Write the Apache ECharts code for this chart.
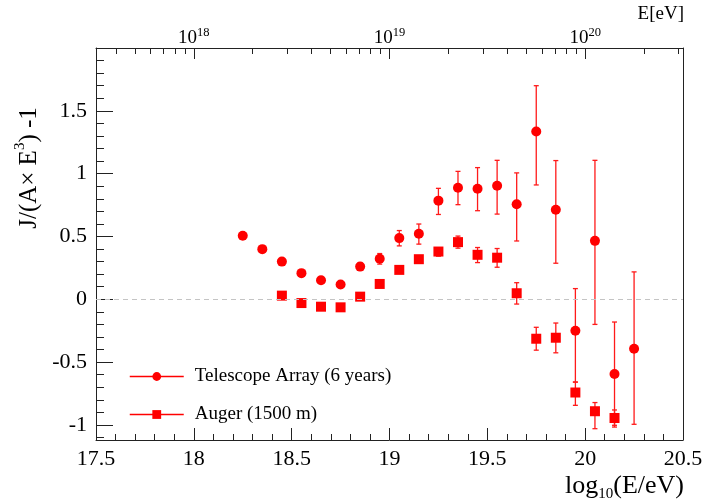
<!DOCTYPE html>
<html>
<head>
<meta charset="utf-8">
<script src="https://cdn.jsdelivr.net/npm/echarts@6/dist/echarts.min.js"></script>
<style>
  html, body { margin: 0; padding: 0; background: #ffffff; }
  #chart { width: 706px; height: 503px; }
</style>
</head>
<body>
<div id="chart"></div>
<script>
// Telescope Array: bin centres in log10(E/eV), J/(A*E^3)-1 and its lower/upper errors
const taX = [18.25, 18.35, 18.45, 18.55, 18.65, 18.75, 18.85, 18.95, 19.05, 19.15, 19.25,
             19.35, 19.45, 19.55, 19.65, 19.75, 19.85, 19.95, 20.05, 20.15, 20.25];
const taY = [0.505, 0.399, 0.300, 0.208, 0.152, 0.117, 0.260, 0.322, 0.487, 0.521, 0.785,
             0.888, 0.880, 0.904, 0.757, 1.335, 0.713, -0.251, 0.465, -0.594, -0.394];
const taErrLo = [0.02, 0.02, 0.02, 0.02, 0.025, 0.025, 0.03, 0.042, 0.062, 0.082, 0.110,
                 0.135, 0.175, 0.226, 0.293, 0.425, 0.426, 0.407, 0.665, 0.409, 0.601];
const taErrHi = [0.02, 0.02, 0.02, 0.02, 0.025, 0.025, 0.03, 0.042, 0.060, 0.078, 0.098,
                 0.130, 0.168, 0.202, 0.249, 0.365, 0.391, 0.336, 0.641, 0.413, 0.612];

// Auger (1500 m array)
const augerX = [18.45, 18.55, 18.65, 18.75, 18.85, 18.95, 19.05, 19.15, 19.25,
                19.35, 19.45, 19.55, 19.65, 19.75, 19.85, 19.95, 20.05, 20.15];
const augerY = [0.029, -0.030, -0.059, -0.064, 0.021, 0.122, 0.234, 0.319, 0.380,
                0.455, 0.354, 0.331, 0.048, -0.314, -0.306, -0.742, -0.891, -0.945];
const augerErrLo = [0.01, 0.01, 0.01, 0.012, 0.012, 0.014, 0.016, 0.02, 0.037,
                    0.048, 0.062, 0.076, 0.086, 0.091, 0.120, 0.102, 0.139, 0.072];
const augerErrHi = [0.01, 0.01, 0.01, 0.012, 0.012, 0.014, 0.016, 0.02, 0.029,
                    0.048, 0.058, 0.073, 0.084, 0.091, 0.117, 0.082, 0.069, 0.064];

const seriesNames = ['Telescope Array (6 years)', 'Auger (1500 m)'];

// Axis ticks
const yMajorTicks = [-1, -0.5, 0, 0.5, 1, 1.5];
const yMinorTicks = [];
for (let i = -11; i <= 19; i++) { if (i % 5 !== 0) yMinorTicks.push(i / 10); }
const eDecades = [18, 19, 20];            // labelled powers of ten on the energy axis
const eMinorTicks = [];
for (let n = 17; n <= 20; n++) {
  for (let k = 2; k <= 9; k++) {
    const v = n + Math.log10(k);
    if (v >= 17.5 && v <= 20.5) eMinorTicks.push(v);
  }
}

const FONT = 'Liberation Serif';
const RED = '#ff0000';

const pts = (xs, ys) => xs.map((x, i) => [x, ys[i]]);
const bars = (xs, ys, lo, hi) => xs.map((x, i) => [x, ys[i] - lo[i], ys[i] + hi[i]]);

function errorBarItem(params, api) {
  const x = api.value(0);
  const lo = api.coord([x, api.value(1)]);
  const hi = api.coord([x, api.value(2)]);
  const cap = 2.5;
  const style = { stroke: '#ff1a1a', lineWidth: 1.3 };
  return {
    type: 'group',
    children: [
      { type: 'line', shape: { x1: lo[0], y1: lo[1], x2: hi[0], y2: hi[1] }, style },
      { type: 'line', shape: { x1: lo[0] - cap, y1: lo[1], x2: lo[0] + cap, y2: lo[1] }, style },
      { type: 'line', shape: { x1: hi[0] - cap, y1: hi[1], x2: hi[0] + cap, y2: hi[1] }, style }
    ]
  };
}

const frameLine = { show: true, onZero: false, lineStyle: { color: '#222', width: 1 } };
const noLine = { show: false, onZero: false };
const tickStyle = { color: '#222', width: 1 };
const XMIN = 17.5, XMAX = 20.5, YMIN = -1.12, YMAX = 2.0;

const chart = echarts.init(document.getElementById('chart'), null, { renderer: 'canvas' });
chart.setOption({
  animation: false,
  backgroundColor: '#ffffff',
  grid: { left: 96, right: 23, top: 48, bottom: 63, containLabel: false },
  xAxis: [
    {
      type: 'value', position: 'bottom', min: XMIN, max: XMAX, interval: 0.5,
      axisLine: frameLine,
      axisTick: { show: true, inside: true, length: 12, lineStyle: tickStyle },
      minorTick: { show: true, splitNumber: 5, length: 6, lineStyle: tickStyle },
      splitLine: { show: false },
      axisLabel: { margin: 8, color: '#000', fontFamily: FONT, fontSize: 22,
                   formatter: v => String(v) }
    },
    {
      type: 'value', position: 'top', min: XMIN, max: XMAX,
      axisLine: frameLine,
      axisTick: { show: true, inside: true, length: 11, customValues: eDecades, lineStyle: tickStyle },
      splitLine: { show: false },
      axisLabel: {
        show: true, margin: 0, customValues: eDecades,
        formatter: v => '{b|10}{s|' + Math.round(v) + '}',
        rich: {
          b: { fontFamily: FONT, fontSize: 19, color: '#000', lineHeight: 22, verticalAlign: 'bottom' },
          s: { fontFamily: FONT, fontSize: 12.5, color: '#000', verticalAlign: 'top' }
        }
      }
    },
    {
      type: 'value', position: 'top', min: XMIN, max: XMAX,
      axisLine: noLine,
      axisTick: { show: true, inside: true, length: 6, customValues: eMinorTicks, lineStyle: tickStyle },
      splitLine: { show: false },
      axisLabel: { show: false }
    }
  ],
  yAxis: [
    {
      type: 'value', position: 'left', min: YMIN, max: YMAX,
      axisLine: frameLine,
      axisTick: { show: true, inside: true, length: 17, customValues: yMajorTicks, lineStyle: tickStyle },
      splitLine: { show: false },
      axisLabel: { show: true, customValues: yMajorTicks, margin: 9, color: '#000',
                   fontFamily: FONT, fontSize: 22, formatter: v => String(v) }
    },
    {
      type: 'value', position: 'left', min: YMIN, max: YMAX,
      axisLine: noLine,
      axisTick: { show: true, inside: true, length: 8, customValues: yMinorTicks, lineStyle: tickStyle },
      splitLine: { show: false },
      axisLabel: { show: false }
    },
    {
      type: 'value', position: 'right', min: YMIN, max: YMAX,
      axisLine: frameLine,
      axisTick: { show: false },
      splitLine: { show: false },
      axisLabel: { show: false }
    }
  ],
  legend: {
    orient: 'vertical', left: 124, top: 362, itemWidth: 54, itemHeight: 11, itemGap: 19,
    selectedMode: false,
    data: seriesNames,
    lineStyle: { color: RED, width: 1.5, opacity: 1 },
    textStyle: { fontFamily: FONT, fontSize: 19, color: '#000', padding: [0, 0, 0, 6] }
  },
  series: [
    {
      type: 'custom', name: 'TA errors', xAxisIndex: 0, yAxisIndex: 0, z: 1,
      renderItem: errorBarItem, data: bars(taX, taY, taErrLo, taErrHi), silent: true
    },
    {
      type: 'custom', name: 'Auger errors', xAxisIndex: 0, yAxisIndex: 0, z: 1,
      renderItem: errorBarItem, data: bars(augerX, augerY, augerErrLo, augerErrHi), silent: true
    },
    {
      type: 'line', name: seriesNames[0], xAxisIndex: 0, yAxisIndex: 0, z: 3,
      data: pts(taX, taY), symbol: 'circle', symbolSize: 10, showAllSymbol: true,
      itemStyle: { color: RED }, lineStyle: { opacity: 0, color: RED },
      markLine: {
        silent: true, symbol: 'none', label: { show: false },
        lineStyle: { color: '#c4c4c4', type: [5, 4], width: 1 },
        data: [{ yAxis: 0 }]
      }
    },
    {
      type: 'line', name: seriesNames[1], xAxisIndex: 0, yAxisIndex: 0, z: 3,
      data: pts(augerX, augerY), symbol: 'rect', symbolSize: 10, showAllSymbol: true,
      itemStyle: { color: RED }, lineStyle: { opacity: 0, color: RED }
    }
  ],
  graphic: [
    {
      type: 'text', x: 684, y: 14,
      style: { text: 'E[eV]', fontFamily: FONT, fontSize: 19, fill: '#000',
               align: 'right', verticalAlign: 'middle' }
    },
    {
      type: 'text', x: 684, y: 486,
      style: {
        text: '{a|log}{s|10}{a|(E/eV)}', align: 'right', verticalAlign: 'middle',
        rich: {
          a: { fontFamily: FONT, fontSize: 26, fill: '#000', lineHeight: 32, verticalAlign: 'middle' },
          s: { fontFamily: FONT, fontSize: 15, fill: '#000', verticalAlign: 'bottom' }
        }
      }
    },
    {
      type: 'text', x: 29, y: 168, rotation: Math.PI / 2,
      style: {
        text: '{a|J/(A\u00d7 E}{s|3}{a|) -1}', align: 'center', verticalAlign: 'middle',
        rich: {
          a: { fontFamily: FONT, fontSize: 25, fill: '#000', lineHeight: 32, verticalAlign: 'middle' },
          s: { fontFamily: FONT, fontSize: 15, fill: '#000', verticalAlign: 'top' }
        }
      }
    }
  ]
});
</script>
</body>
</html>
